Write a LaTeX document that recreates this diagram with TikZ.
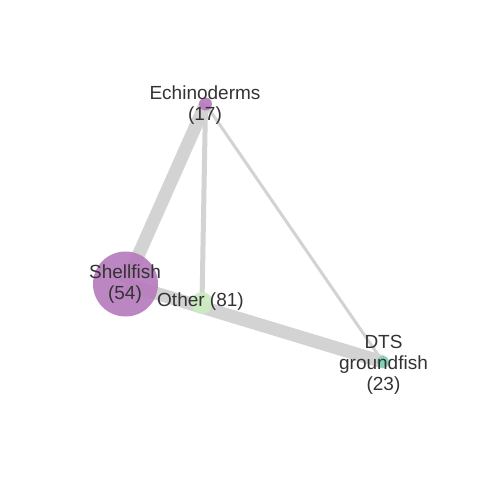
\documentclass[tikz,border=0pt]{standalone}
\usepackage{fontspec}
\setmainfont{Liberation Sans}
\definecolor{edgegray}{RGB}{211,211,211}
\definecolor{purplenode}{RGB}{183,124,190}
\definecolor{greennode}{RGB}{203,236,192}
\definecolor{tealnode}{RGB}{126,208,182}
\definecolor{labeltext}{RGB}{51,51,51}
\tikzset{
  vertex/.style={circle, inner sep=0pt, draw=none, fill opacity=0.92},
  lbl/.style={text=labeltext, align=center, inner sep=0pt,
    font=\fontsize{19}{21}\selectfont},
  link/.style={draw=edgegray, line cap=butt}
}
\begin{document}
\begin{tikzpicture}[x=1pt,y=-1pt]
\useasboundingbox (0,0) rectangle (480,480);
\fill[white] (0,0) rectangle (480,480);
% vertices
\coordinate (ec) at (205.5,104);
\coordinate (sh) at (125.5,284);
\coordinate (ot) at (202,303);
\coordinate (dt) at (383,362);
% edges
\draw[link, line width=13pt] (sh) -- (ec);
\draw[link, line width=13pt] (sh) -- (dt);
\draw[link, line width=5pt] (ec) -- (ot);
\draw[link, line width=3pt] (ec) -- (dt);
% circles
\node[vertex, fill=purplenode, minimum size=13pt] (ecn) at (ec) {};
\node[vertex, fill=purplenode, minimum size=65pt] (shn) at (sh) {};
\node[vertex, fill=greennode, minimum size=22pt] (otn) at (ot) {};
\node[vertex, fill=tealnode, minimum size=12pt] (dtn) at (dt) {};
% labels
\node[lbl] (ecl) at (205,105.5) {Echinoderms\\(17)};
\node[lbl] (shl) at (125,284.5) {Shellfish\\(54)};
\node[lbl] (otl) at (200.5,302) {Other (81)};
\node[lbl] (dtl) at (383.5,365) {DTS\\groundfish\\(23)};
\end{tikzpicture}
\end{document}
